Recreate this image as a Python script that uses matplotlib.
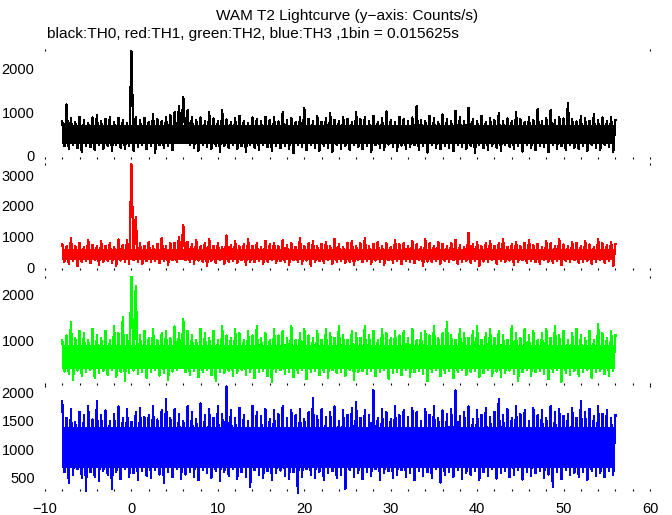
import numpy as np
import matplotlib
matplotlib.use("Agg")
import matplotlib.pyplot as plt
from matplotlib.ticker import MultipleLocator

plt.rcParams['font.family'] = ['Liberation Sans', 'DejaVu Sans']

# ---------------- data (counts/s) ----------------
# upper extremes sampled every 0.5 s starting at t = -8 s
t_start_hi = -8.0
# lower extremes sampled every 0.5 s starting at t = -7.75 s
t_start_lo = -7.75
step = 0.5

th0_hi = [800, 1180, 860, 780, 900, 820, 760, 880, 940, 800,
          850, 900, 780, 870, 820, 760, 2400, 900, 830, 870,
          780, 960, 850, 800, 900, 940, 1000, 1150, 1350, 1050,
          900, 820, 880, 790, 1000, 860, 800, 1050, 840, 780,
          870, 920, 810, 760, 880, 850, 790, 900, 830, 880,
          790, 1000, 820, 870, 780, 900, 1100, 850, 800, 920,
          780, 860, 980, 830, 790, 900, 850, 780, 1000, 840,
          880, 800, 920, 780, 860, 1020, 820, 780, 900, 850,
          800, 880, 1150, 830, 790, 920, 860, 780, 950, 840,
          800, 1030, 880, 790, 1100, 850, 800, 920, 780, 870,
          820, 980, 800, 860, 790, 1000, 850, 780, 900, 830,
          1080, 800, 870, 1050, 820, 900, 860, 1220, 840, 790,
          920, 860, 800, 950, 830, 880, 790, 900, 820]
th0_lo = [220, 150, 260, 180, 90, 240, 200, 130, 250, 170,
          230, 110, 260, 190, 150, 240, 120, 200, 260, 160,
          220, 80, 250, 180, 230, 140, 300, 380, 420, 250,
          190, 120, 260, 210, 160, 240, 100, 230, 180, 260,
          150, 220, 90, 250, 190, 140, 260, 200, 110, 240,
          180, 230, 160, 60, 250, 200, 140, 260, 180, 120,
          240, 190, 100, 250, 170, 220, 130, 260, 200, 150,
          230, 90, 250, 180, 140, 260, 210, 120, 240, 170,
          200, 250, 130, 220, 80, 260, 180, 150, 240, 190,
          110, 250, 200, 160, 230, 70, 260, 180, 140, 240,
          190, 120, 250, 210, 160, 230, 100, 260, 180, 140,
          240, 200, 90, 250, 170, 220, 130, 260, 190, 150,
          230, 110, 250, 180, 140, 260, 200, 100]

th1_hi = [780, 700, 950, 720, 820, 680, 900, 750, 700, 860,
          720, 800, 680, 920, 750, 900, 3350, 1650, 800, 720,
          850, 700, 780, 960, 720, 820, 820, 1000, 1400, 850,
          760, 900, 700, 820, 940, 720, 800, 680, 1050, 750,
          860, 700, 780, 920, 720, 800, 690, 880, 760, 820,
          700, 900, 750, 820, 680, 960, 720, 800, 870, 700,
          780, 850, 700, 930, 760, 690, 820, 880, 720, 800,
          950, 700, 780, 850, 720, 800, 680, 900, 760, 820,
          700, 880, 760, 690, 920, 800, 720, 850, 780, 700,
          820, 900, 740, 680, 1130, 780, 850, 700, 800, 880,
          720, 800, 930, 690, 760, 850, 700, 820, 900, 740,
          780, 690, 860, 800, 720, 940, 760, 700, 850, 800,
          720, 880, 760, 690, 920, 800, 740, 850, 780]
th1_lo = [200, 130, 240, 60, 180, 220, 150, 250, 100, 190,
          230, 160, 70, 240, 200, 140, 250, 180, 120, 230,
          190, 240, 150, 220, 100, 250, 180, 300, 260, 210,
          130, 240, 190, 60, 230, 170, 250, 140, 200, 220,
          160, 250, 90, 210, 180, 240, 130, 200, 250, 150,
          230, 180, 110, 250, 200, 140, 240, 60, 190, 220,
          170, 250, 130, 210, 240, 150, 200, 90, 250, 180,
          220, 140, 240, 190, 100, 250, 170, 220, 130, 240,
          200, 160, 250, 80, 210, 180, 240, 140, 220, 190,
          250, 120, 200, 230, 160, 240, 50, 210, 190, 250,
          140, 220, 180, 240, 110, 200, 250, 160, 230, 190,
          130, 250, 200, 170, 240, 90, 220, 190, 250, 150,
          210, 240, 120, 200, 250, 170, 230, 60]

th2_hi = [1000, 1100, 1400, 1050, 1200, 1150, 1000, 1250, 1100, 1050,
          1200, 1000, 1300, 1150, 1500, 1100, 2400, 2200, 1100, 1200,
          1050, 1250, 1000, 1150, 1200, 1050, 1300, 1150, 1470, 1200,
          1100, 1000, 1250, 1150, 1050, 1200, 1000, 1300, 1100, 1050,
          1250, 1150, 1000, 1200, 1100, 1300, 1050, 1150, 1000, 1250,
          1100, 1200, 1050, 1300, 1000, 1150, 1250, 1100, 1050, 1200,
          1000, 1250, 1150, 1050, 1300, 1100, 1000, 1200, 1150, 1050,
          1300, 1100, 1200, 1000, 1250, 1150, 1050, 1200, 1100, 1200,
          1050, 1250, 1000, 1150, 1200, 1100, 1300, 1050, 1150, 1400,
          1100, 1000, 1250, 1150, 1050, 1200, 1300, 1000, 1150, 1250,
          1050, 1200, 1100, 1000, 1300, 1150, 1050, 1250, 1100, 1200,
          1000, 1150, 1250, 1050, 1300, 1100, 1200, 1000, 1150, 1250,
          1100, 1050, 1200, 1000, 1350, 1150, 1050, 1200, 1100]
th2_lo = [300, 250, 120, 320, 200, 280, 340, 150, 260, 310,
          220, 330, 180, 290, 100, 270, 320, 240, 300, 160,
          280, 330, 210, 260, 120, 300, 340, 380, 290, 230,
          310, 170, 280, 330, 220, 100, 300, 260, 320, 190,
          270, 340, 230, 300, 150, 280, 320, 200, 60, 290,
          330, 240, 300, 180, 270, 340, 130, 280, 310, 220,
          290, 160, 330, 260, 300, 200, 340, 110, 280, 310,
          240, 320, 190, 290, 330, 140, 270, 300, 220, 340,
          180, 280, 310, 250, 90, 300, 330, 200, 270, 320,
          150, 290, 340, 230, 280, 310, 170, 260, 330, 210,
          300, 180, 270, 320, 240, 100, 290, 340, 200, 280,
          310, 250, 130, 300, 330, 70, 270, 220, 320, 190,
          280, 330, 160, 290, 310, 240, 200, 320]

th3_hi = [1840, 1550, 1700, 1480, 1650, 1600, 1750, 1520, 1840, 1600,
          1680, 1500, 1620, 1750, 1550, 1700, 1480, 1650, 1720, 1560,
          1600, 1750, 1520, 1680, 1880, 1550, 1700, 1620, 1500, 1750,
          1650, 1520, 1800, 1600, 1700, 1550, 1750, 1620, 2100, 1680,
          1550, 1720, 1600, 1500, 1760, 1650, 1580, 1700, 1520, 1680,
          1620, 1750, 1550, 1680, 1600, 1700, 1520, 1650, 1900, 1580,
          1700, 1560, 1650, 1750, 1500, 1680, 1600, 1720, 1820, 1550,
          1680, 1600, 2030, 1550, 1700, 1650, 1520, 1750, 1600, 1680,
          1560, 1720, 1650, 1500, 1700, 1600, 1750, 1550, 1680, 1620,
          1700, 2030, 1580, 1650, 1750, 1520, 1680, 1600, 1720, 1560,
          1650, 1880, 1600, 1700, 1550, 1750, 1620, 1680, 1500, 1720,
          1600, 1680, 1550, 1750, 1650, 1700, 1580, 1620, 1720, 1550,
          1840, 1650, 1700, 1580, 1750, 1620, 1680, 1550, 1600]
th3_lo = [600, 420, 550, 650, 500, 280, 600, 520, 450, 630,
          560, 300, 600, 480, 650, 520, 580, 460, 620, 540,
          500, 640, 560, 420, 600, 520, 650, 480, 560, 610,
          520, 460, 640, 580, 500, 620, 450, 600, 540, 650,
          480, 600, 520, 350, 640, 560, 500, 620, 460, 580,
          630, 540, 480, 600, 240, 520, 650, 560, 500, 610,
          460, 580, 620, 500, 550, 300, 640, 520, 590, 480,
          600, 530, 650, 470, 580, 620, 500, 560, 640, 510,
          580, 460, 620, 540, 600, 500, 650, 420, 560, 610,
          520, 640, 480, 590, 550, 620, 460, 600, 530, 650,
          490, 580, 620, 510, 560, 640, 470, 600, 540, 580,
          620, 500, 560, 350, 610, 480, 640, 550, 590, 520,
          600, 460, 630, 540, 580, 510, 620, 560]

series_hi = [th0_hi, th1_hi, th2_hi, th3_hi]
series_lo = [th0_lo, th1_lo, th2_lo, th3_lo]
colors = ['#000000', '#ff0000', '#00ff00', '#0000ff']
ylims = [(-69, 2426), (-65, 3355), (0, 2400), (273, 2105)]
yticks = [[0, 1000, 2000], [0, 1000, 2000, 3000], [1000, 2000],
          [500, 1000, 1500, 2000]]
xticks = [-10, 0, 10, 20, 30, 40, 50, 60]
title = "WAM T2 Lightcurve (y\u2212axis: Counts/s)"
subtitle = "black:TH0, red:TH1, green:TH2, blue:TH3 ,1bin = 0.015625s"

# ---------------- layout (pixels) ----------------
W, H = 672, 515
fig = plt.figure(figsize=(W / 100, H / 100), dpi=100)
left, right = 45, 650
panels_px = [(50, 159), (164, 270), (277, 385), (386, 491)]

FS = 10.5
FS_T = 11.1
for i, (top, bot) in enumerate(panels_px):
    ax = fig.add_axes([left / W, (H - bot) / H, (right - left) / W, (bot - top) / H])
    ax.set_facecolor('none')
    hi = np.asarray(series_hi[i], float)
    lo = np.asarray(series_lo[i], float)
    t_hi = t_start_hi + step * np.arange(len(hi))
    t_lo = t_start_lo + step * np.arange(len(lo))
    t = np.empty(len(hi) + len(lo))
    y = np.empty_like(t)
    t[0::2][:len(hi)] = t_hi
    y[0::2][:len(hi)] = hi
    t[1::2][:len(lo)] = t_lo
    y[1::2][:len(lo)] = lo
    # dense core of the light curve (where the 1/64 s bins overlap solidly)
    core_top = np.percentile(hi, 8) - 0.12 * (np.median(hi) - np.median(lo))
    core_bot = np.percentile(lo, 85) + 0.05 * (np.median(hi) - np.median(lo))
    ax.fill_between([t.min(), t.max()], core_bot, core_top, color=colors[i],
                    lw=0, zorder=3 + i, clip_on=False)
    ax.plot(t, y, color=colors[i], lw=0.9, clip_on=False, zorder=3 + i,
            antialiased=False)
    ax.set_xlim(-10, 60)
    ax.set_ylim(*ylims[i])
    for s in ax.spines.values():
        s.set_visible(False)
    ax.set_xticks(xticks)
    ax.xaxis.set_minor_locator(MultipleLocator(2))
    ax.tick_params(axis='x', which='both', direction='in', length=1.6,
                   width=0.8, color='black', labelsize=FS, pad=8,
                   labelbottom=(i == 3))
    ax.set_yticks(yticks[i])
    ax.tick_params(axis='y', which='both', length=0, labelsize=FS, pad=7.5)
    # small corner marks at the top of each panel
    ax.plot([0, 1], [1, 1], ls='none', marker='|', ms=1.6, mew=0.8,
            color='black', transform=ax.transAxes, clip_on=False)
    if i == 0:
        ax.text(0.5, 1 + 34 / (bot - top), title, transform=ax.transAxes,
                ha='center', va='center', fontsize=FS_T)
        ax.text(0.003, 1 + 16 / (bot - top), subtitle, transform=ax.transAxes,
                ha='left', va='center', fontsize=FS_T)

fig.savefig('out.png', dpi=100)
